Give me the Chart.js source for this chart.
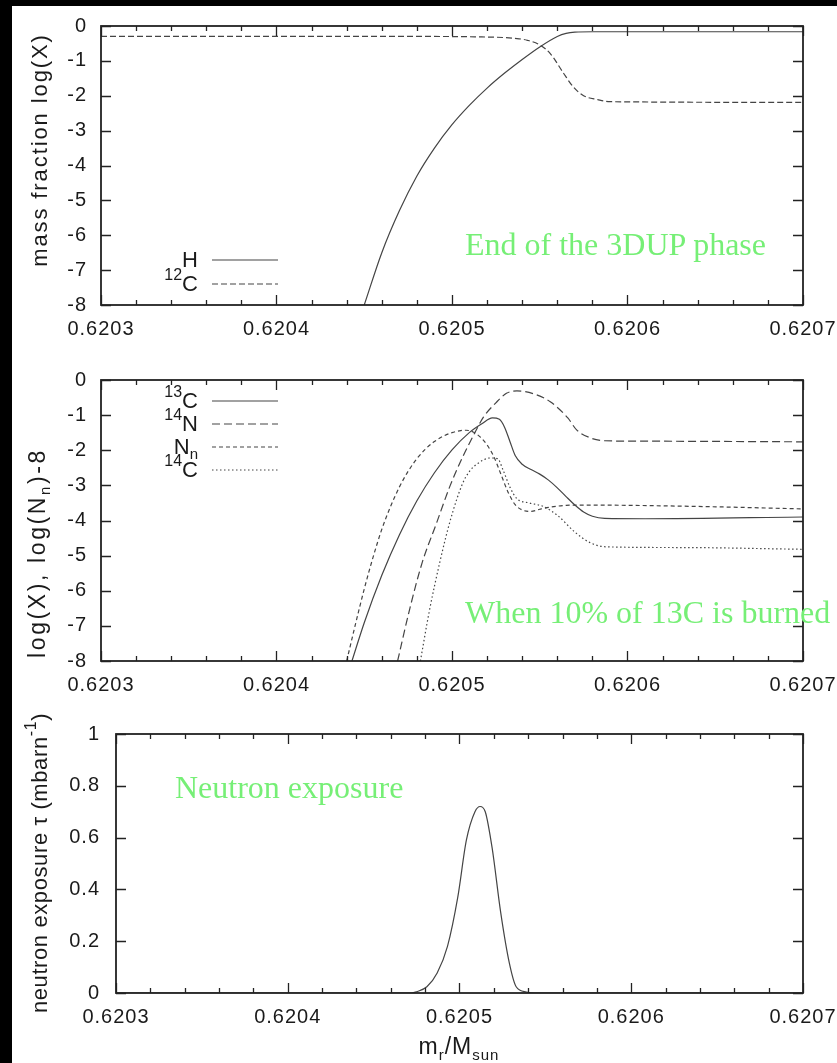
<!DOCTYPE html>
<html>
<head>
<meta charset="utf-8">
<title>13C pocket abundance profiles</title>
<script src="https://cdn.jsdelivr.net/npm/chart.js"></script>
<style>
    html, body { margin: 0; padding: 0; width: 837px; height: 1063px; overflow: hidden; background: #000; }
    #page { position: absolute; left: 12px; top: 6px; width: 825px; height: 1057px; background: #fff; }
    canvas { position: absolute; left: 0; }
    .lbl { position: absolute; font-family: "Liberation Sans", Arial, sans-serif; color: #1a1a1a; white-space: nowrap; font-size: 22px; line-height: 22px; }
    .ytitle { transform: translate(-50%, -50%) rotate(-90deg); }
    .sup { position: relative; top: -11px; font-size: 16px; }
    .sub { position: relative; top: 5px; font-size: 15px; }
    .note { position: absolute; font-family: "Liberation Serif", "Times New Roman", serif; font-size: 32px; line-height: 32px; color: #76ef76; white-space: nowrap; }
    .key { text-align: right; width: 98px; left: 100px; }
    svg.sample { position: absolute; left: 212px; width: 66px; height: 4px; }
</style>
</head>
<body>
<div id="page"></div>
<canvas id="p1" width="880" height="350" style="top:0px"></canvas>
<canvas id="p2" width="880" height="355" style="top:350px"></canvas>
<canvas id="p3" width="880" height="358" style="top:705px"></canvas>

<div class="lbl ytitle" style="left:40px; top:150px; letter-spacing:1.9px">mass fraction log(X)</div>
<div class="lbl ytitle" style="left:38px; top:553px; font-size:23px; letter-spacing:2.6px">log(X), log(N<span class="sub">n</span>)-8</div>
<div class="lbl ytitle" style="left:41px; top:863px; letter-spacing:0.6px">neutron exposure &tau; (mbarn<span class="sup">-1</span>)</div>
<div class="lbl" style="left:459px; top:1035px; font-size:23px; line-height:23px; transform:translateX(-50%); letter-spacing:1px">m<span class="sub" style="top:6px">r</span>/M<span class="sub" style="top:6px">sun</span></div>

<div class="note" style="left:465px; top:228px">End of the 3DUP phase</div>
<div class="note" style="left:465px; top:596px">When 10% of 13C is burned</div>
<div class="note" style="left:175px; top:771px">Neutron exposure</div>

<script>
// x axis: m_r / M_sun
var xTicks = [0.6203, 0.6204, 0.6205, 0.6206, 0.6207];
var logTicks = [-8, -7, -6, -5, -4, -3, -2, -1, 0];
var tauTicks = [0, 0.2, 0.4, 0.6, 0.8, 1];

// top panel: end of the 3DUP phase
var hMass = [0.620450, 0.620460, 0.620470, 0.620480, 0.620490, 0.620500, 0.620510, 0.620520, 0.620530, 0.620540, 0.620550, 0.620560, 0.620565, 0.620570, 0.620580, 0.6207];
var hLog = [-8, -6.5, -5.3, -4.3, -3.5, -2.83, -2.27, -1.78, -1.35, -0.96, -0.6, -0.3, -0.21, -0.175, -0.165, -0.165];
var c12Mass = [0.6203, 0.620480, 0.620513, 0.620537, 0.620543, 0.620550, 0.620556, 0.620563, 0.620569, 0.620575, 0.620583, 0.620590, 0.6207];
var c12Log = [-0.3, -0.3, -0.31, -0.36, -0.41, -0.54, -0.79, -1.31, -1.74, -2.0, -2.11, -2.17, -2.19];

// middle panel: 10% of 13C burned
var c13Mass = [0.620443, 0.620450, 0.620460, 0.620470, 0.620480, 0.620490, 0.620500, 0.620510, 0.620517, 0.620523, 0.620527, 0.620530, 0.620533, 0.620536, 0.620540, 0.620545, 0.620550, 0.620555, 0.620560, 0.620565, 0.620570, 0.620575, 0.620580, 0.620587, 0.620610, 0.6207];
var c13Log = [-8, -6.91, -5.56, -4.41, -3.44, -2.64, -1.99, -1.49, -1.245, -1.08, -1.12, -1.35, -1.75, -2.15, -2.4, -2.55, -2.68, -2.85, -3.07, -3.32, -3.56, -3.76, -3.88, -3.94, -3.95, -3.9];
var n14Mass = [0.620469, 0.620476, 0.620483, 0.620491, 0.620499, 0.620506, 0.620512, 0.620518, 0.620525, 0.620531, 0.620537, 0.620547, 0.620556, 0.620566, 0.620571, 0.620579, 0.620587, 0.620604, 0.6207];
var n14Log = [-8, -6.5, -5.2, -4.1, -3.0, -2.2, -1.6, -1.05, -0.65, -0.38, -0.31, -0.4, -0.62, -1.08, -1.42, -1.65, -1.73, -1.74, -1.76];
var nnMass = [0.620440, 0.620445, 0.620450, 0.620455, 0.620460, 0.620465, 0.620470, 0.620475, 0.620480, 0.620485, 0.620490, 0.620495, 0.620500, 0.620505, 0.620508, 0.620512, 0.620516, 0.620520, 0.620524, 0.620528, 0.620532, 0.620536, 0.620540, 0.620545, 0.620550, 0.620556, 0.620565, 0.620575, 0.620640, 0.6207];
var nnLog = [-8, -6.95, -5.95, -5.05, -4.25, -3.6, -3.05, -2.6, -2.24, -1.96, -1.75, -1.6, -1.5, -1.44, -1.43, -1.48, -1.62, -1.85, -2.2, -2.7, -3.2, -3.55, -3.7, -3.74, -3.68, -3.62, -3.57, -3.56, -3.6, -3.67];
var c14Mass = [0.620482, 0.620487, 0.620493, 0.620499, 0.620506, 0.620510, 0.620514, 0.620522, 0.620526, 0.620529, 0.620533, 0.620537, 0.620544, 0.620552, 0.620560, 0.620570, 0.620579, 0.620588, 0.620632, 0.6207];
var c14Log = [-8, -6.6, -5.2, -4.0, -2.95, -2.6, -2.4, -2.22, -2.24, -2.55, -3.05, -3.38, -3.5, -3.6, -3.85, -4.33, -4.64, -4.75, -4.77, -4.82];

// bottom panel: neutron exposure
var tauMass = [0.6203, 0.620472, 0.620475, 0.620481, 0.620487, 0.620493, 0.620499, 0.620504, 0.620509, 0.620512, 0.620515, 0.620519, 0.620524, 0.620529, 0.620533, 0.620539, 0.620544, 0.6207];
var tauVal = [0, 0, 0.005, 0.024, 0.077, 0.18, 0.37, 0.59, 0.70, 0.72, 0.70, 0.56, 0.31, 0.116, 0.024, 0.004, 0, 0];

var FONT = '"Liberation Sans", Arial, sans-serif';
var LINE = '#444';

function pts(xs, ys) {
    return xs.map(function (x, i) { return { x: x, y: ys[i] }; });
}

// gnuplot style frame with inward major/minor ticks on all four sides
var frameTicks = {
    id: 'frameTicks',
    afterDraw: function (chart) {
        var ctx = chart.ctx, a = chart.chartArea, xs = chart.scales.x, ys = chart.scales.y;
        ctx.save();
        ctx.strokeStyle = '#222';
        ctx.lineWidth = 1.3;
        ctx.beginPath();
        var step = (xTicks[1] - xTicks[0]) / 5;
        for (var i = 0; i <= (xTicks.length - 1) * 5; i++) {
            var px = Math.round(xs.getPixelForValue(xTicks[0] + i * step)) + 0.5;
            var len = i % 5 === 0 ? 10 : 5;
            ctx.moveTo(px, a.bottom); ctx.lineTo(px, a.bottom - len);
            ctx.moveTo(px, a.top); ctx.lineTo(px, a.top + len);
        }
        ys.ticks.forEach(function (t) {
            var py = Math.round(ys.getPixelForValue(t.value)) + 0.5;
            ctx.moveTo(a.left, py); ctx.lineTo(a.left + 10, py);
            ctx.moveTo(a.right, py); ctx.lineTo(a.right - 10, py);
        });
        ctx.stroke();
        ctx.lineWidth = 1.8;
        ctx.strokeRect(a.left, a.top, a.right - a.left, a.bottom - a.top);
        ctx.restore();
    }
};

var spacing = {
    id: 'spacing',
    afterInit: function (chart) { chart.ctx.letterSpacing = '1px'; }
};

function makePanel(p) {
    var canvas = document.getElementById(p.id);
    var ch = canvas.height;
    new Chart(canvas, {
        type: 'scatter',
        data: {
            datasets: p.series.map(function (s) {
                return {
                    data: pts(s.x, s.y),
                    showLine: true,
                    borderColor: LINE,
                    borderWidth: 1.2,
                    borderDash: s.dash,
                    pointRadius: 0,
                    cubicInterpolationMode: 'monotone',
                    fill: false
                };
            })
        },
        options: {
            responsive: false,
            animation: false,
            devicePixelRatio: 1,
            layout: { padding: { left: p.left - 70, right: 880 - 803, top: p.top - p.canvasTop, bottom: p.canvasTop + ch - p.bottom - 40 } },
            plugins: { legend: { display: false }, tooltip: { enabled: false } },
            scales: {
                x: {
                    type: 'linear', min: xTicks[0], max: xTicks[xTicks.length - 1],
                    grid: { display: false, drawTicks: false }, border: { display: false },
                    afterBuildTicks: function (s) { s.ticks = xTicks.map(function (v) { return { value: v }; }); },
                    afterFit: function (s) { s.height = 40; },
                    ticks: { padding: 12, autoSkip: false, maxRotation: 0, color: '#1a1a1a', font: { family: FONT, size: 20 },
                             callback: function (v) { return v.toFixed(4); } }
                },
                y: {
                    type: 'linear', min: p.yTicks[0], max: p.yTicks[p.yTicks.length - 1],
                    grid: { display: false, drawTicks: false }, border: { display: false },
                    afterBuildTicks: function (s) { s.ticks = p.yTicks.map(function (v) { return { value: v }; }); },
                    afterFit: function (s) { s.width = 70; },
                    ticks: { padding: p.yPad, autoSkip: false, color: '#1a1a1a', font: { family: FONT, size: 20 },
                             callback: function (v) { return String(v); } }
                }
            }
        },
        plugins: [frameTicks, spacing]
    });
}

makePanel({ id: 'p1', canvasTop: 0, left: 101, top: 24, bottom: 305, yTicks: logTicks, yPad: 14,
    series: [{ x: hMass, y: hLog, dash: [] }, { x: c12Mass, y: c12Log, dash: [6, 3] }] });
makePanel({ id: 'p2', canvasTop: 350, left: 101, top: 380, bottom: 661, yTicks: logTicks, yPad: 14,
    series: [{ x: c13Mass, y: c13Log, dash: [] }, { x: n14Mass, y: n14Log, dash: [8, 4] },
             { x: nnMass, y: nnLog, dash: [4, 3] }, { x: c14Mass, y: c14Log, dash: [1.5, 2.5] }] });
makePanel({ id: 'p3', canvasTop: 705, left: 116, top: 734, bottom: 993, yTicks: tauTicks, yPad: 16,
    series: [{ x: tauMass, y: tauVal, dash: [] }] });

// gnuplot style keys: label on the left, line sample on the right
var keys = [
    { html: 'H', cy: 260, dash: '' },
    { html: '<span class="sup">12</span>C', cy: 284, dash: '6,3' },
    { html: '<span class="sup">13</span>C', cy: 401, dash: '' },
    { html: '<span class="sup">14</span>N', cy: 424, dash: '8,4' },
    { html: 'N<span class="sub">n</span>', cy: 447, dash: '4,3' },
    { html: '<span class="sup">14</span>C', cy: 470, dash: '1.5,2.5' }
];
keys.forEach(function (k) {
    var d = document.createElement('div');
    d.className = 'lbl key';
    d.style.top = (k.cy - 11) + 'px';
    d.innerHTML = k.html;
    document.body.appendChild(d);
    var svg = document.createElementNS('http://www.w3.org/2000/svg', 'svg');
    svg.setAttribute('class', 'sample');
    svg.style.top = (k.cy - 2) + 'px';
    svg.innerHTML = '<line x1="0" y1="2" x2="66" y2="2" stroke="' + LINE + '" stroke-width="1.2"' +
        (k.dash ? ' stroke-dasharray="' + k.dash + '"' : '') + '/>';
    document.body.appendChild(svg);
});
</script>
</body>
</html>
